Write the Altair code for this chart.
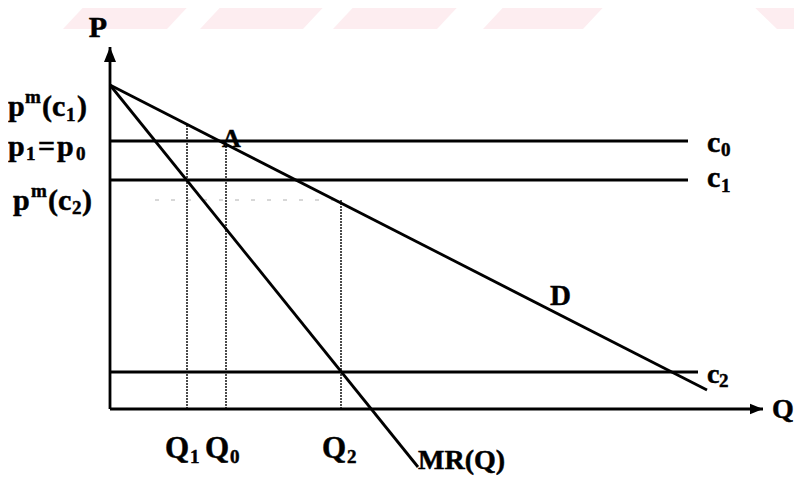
import altair as alt
import pandas as pd

# ---- values (Q to the right, P upward; 1 unit ~ 10 px) ----
demand_q = [0.0, 59.7]
demand_p = [32.4, 1.9]
mr_q = [0.0, 30.8]
mr_p = [32.4, -5.8]
cost_names = ["c0", "c1", "c2"]
cost_levels = [26.8, 22.9, 3.7]
cost_ends = [57.8, 57.8, 58.8]
q_names = ["Q1", "Q0", "Q2"]
q_values = [7.7, 11.6, 23.1]
pm_c1 = 28.5
pm_c2 = 20.9
axis_q_max = 65.3
axis_p_max = 36.2

# faint watermark stripes along the top edge (bottom / top of band)
stripe_ids = [1, 2, 3, 4, 5]
stripe_bottom_left = [-4.7, 9.0, 22.3, 37.3, 66.7]
stripe_bottom_right = [5.7, 19.3, 32.7, 47.3, 69.2]
stripe_top_left = [-2.74, 10.96, 24.26, 39.26, 64.53]
stripe_top_right = [7.66, 21.26, 34.66, 49.26, 69.2]
stripe_p_bottom = 38.0
stripe_p_top = 40.1

XS = alt.Scale(domain=[-10.2, 68.4], nice=False, zero=False)
YS = alt.Scale(domain=[-6.7, 40.1], nice=False, zero=False)
FONT = "Liberation Serif"

c0, c1, c2 = cost_levels
Q1, Q0, Q2 = q_values

# ---- segments ----
solid_rows = [
    dict(q=0, p=0, q2=0, p2=axis_p_max),
    dict(q=0, p=0, q2=axis_q_max, p2=0),
    dict(q=demand_q[0], p=demand_p[0], q2=demand_q[1], p2=demand_p[1]),
    dict(q=mr_q[0], p=mr_p[0], q2=mr_q[1], p2=mr_p[1]),
]
for lvl, end in zip(cost_levels, cost_ends):
    solid_rows.append(dict(q=0, p=lvl, q2=end, p2=lvl))
solid = pd.DataFrame(solid_rows)

dotted = pd.DataFrame([
    dict(q=Q1, p=0, q2=Q1, p2=pm_c1),
    dict(q=Q0, p=0, q2=Q0, p2=c0),
    dict(q=Q2, p=0, q2=Q2, p2=pm_c2),
])
faint = pd.DataFrame([dict(q=4.5, p=pm_c2, q2=Q2, p2=pm_c2)])


def rule_layer(df, **style):
    return alt.Chart(df).mark_rule(**style).encode(
        x=alt.X("q:Q", scale=XS, axis=None),
        y=alt.Y("p:Q", scale=YS, axis=None),
        x2="q2:Q",
        y2="p2:Q",
    )


# ---- watermark ----
stripe_rows = []
for i, bl, br, tl, tr in zip(stripe_ids, stripe_bottom_left, stripe_bottom_right,
                             stripe_top_left, stripe_top_right):
    stripe_rows.append(dict(s=i, p=stripe_p_bottom, l=bl, r=br))
    stripe_rows.append(dict(s=i, p=stripe_p_top, l=tl, r=tr))
stripes = alt.Chart(pd.DataFrame(stripe_rows)).mark_area(
    orient="horizontal", color="#fdedf0", opacity=1
).encode(
    y=alt.Y("p:Q", scale=YS, axis=None),
    x=alt.X("l:Q", scale=XS, axis=None),
    x2="r:Q",
    detail="s:N",
)

# ---- arrow heads ----
up_arrow = alt.Chart(pd.DataFrame([dict(q=0, p=axis_p_max)])).mark_point(
    shape="M0,0L0.8,2L-0.8,2Z", size=225, filled=True, color="black", opacity=1
).encode(x=alt.X("q:Q", scale=XS, axis=None), y=alt.Y("p:Q", scale=YS, axis=None))
right_arrow = alt.Chart(pd.DataFrame([dict(q=axis_q_max, p=0)])).mark_point(
    shape="M0,0L-2,-0.8L-2,0.8Z", size=169, filled=True, color="black", opacity=1
).encode(x=alt.X("q:Q", scale=XS, axis=None), y=alt.Y("p:Q", scale=YS, axis=None))

# ---- text pieces: (text, anchor q, anchor p, dx, dy, size, align) ----
B, S = 30, 19
pieces = [
    ("P", 0, axis_p_max, -12, -10, 30, "center"),
    ("Q", axis_q_max, 0, 9, 9, 28, "left"),
    # p^m(c1)
    ("p", 0, pm_c1, -102, -8, B, "left"),
    ("m", 0, pm_c1, -85, -21, S, "left"),
    ("(c", 0, pm_c1, -68, -8, B, "left"),
    ("1", 0, pm_c1, -44, -3, S, "left"),
    (")", 0, pm_c1, -33, -8, B, "left"),
    # p1=p0
    ("p", 0, c0, -102, 15, B, "left"),
    ("1", 0, c0, -84, 19, S, "left"),
    ("=", 0, c0, -72, 15, B, "left"),
    ("p", 0, c0, -53, 15, B, "left"),
    ("0", 0, c0, -34, 19, S, "left"),
    # p^m(c2)
    ("p", 0, pm_c2, -97, 10, B, "left"),
    ("m", 0, pm_c2, -79, -3, S, "left"),
    ("(c", 0, pm_c2, -62, 10, B, "left"),
    ("2", 0, pm_c2, -38, 14, S, "left"),
    (")", 0, pm_c2, -28, 10, B, "left"),
    # A and D
    ("A", Q0, c0, -4, 6, 26, "left"),
    ("D", demand_q[1], demand_p[1], -157, -85, 29, "left"),
    # cost labels
    ("c", cost_ends[0], c0, 19, 11, B, "left"),
    ("0", cost_ends[0], c0, 33, 15, S, "left"),
    ("c", cost_ends[1], c1, 19, 7, B, "left"),
    ("1", cost_ends[1], c1, 33, 12, S, "left"),
    ("c", cost_ends[2], c2, 9, 11, 28, "left"),
    ("2", cost_ends[2], c2, 21, 15, S, "left"),
    # quantity labels
    ("Q", Q1, 0, -22, 49, 31, "left"),
    ("1", Q1, 0, 3, 54, S, "left"),
    ("Q", Q0, 0, -21, 49, 31, "left"),
    ("0", Q0, 0, 4, 54, S, "left"),
    ("Q", Q2, 0, -19, 49, 31, "left"),
    ("2", Q2, 0, 6, 54, S, "left"),
    # MR(Q)
    ("MR(Q)", mr_q[1], mr_p[1], 0, 2, 28, "left"),
]

text_layers = []
for txt, q, p, dx, dy, size, align in pieces:
    text_layers.append(
        alt.Chart(pd.DataFrame([dict(q=q, p=p, t=txt)])).mark_text(
            dx=dx, dy=dy, fontSize=size, font=FONT, fontWeight="bold",
            align=align, baseline="alphabetic", color="black",
            stroke="black", strokeWidth=0.5,
        ).encode(
            x=alt.X("q:Q", scale=XS, axis=None),
            y=alt.Y("p:Q", scale=YS, axis=None),
            text="t:N",
        )
    )

chart = alt.layer(
    stripes,
    rule_layer(faint, color="#b0b0b0", strokeWidth=1, strokeDash=[4, 12]),
    rule_layer(dotted, color="#111111", strokeWidth=1.5, strokeDash=[2, 1]),
    rule_layer(solid, color="black", strokeWidth=2.8),
    up_arrow,
    right_arrow,
    *text_layers,
).properties(
    width=786,
    height=468,
    padding=0,
    autosize=alt.AutoSizeParams(type="none"),
    background="white",
).configure_view(stroke=None)

chart.save("out.html", embed_options={"renderer": "svg", "actions": False})
